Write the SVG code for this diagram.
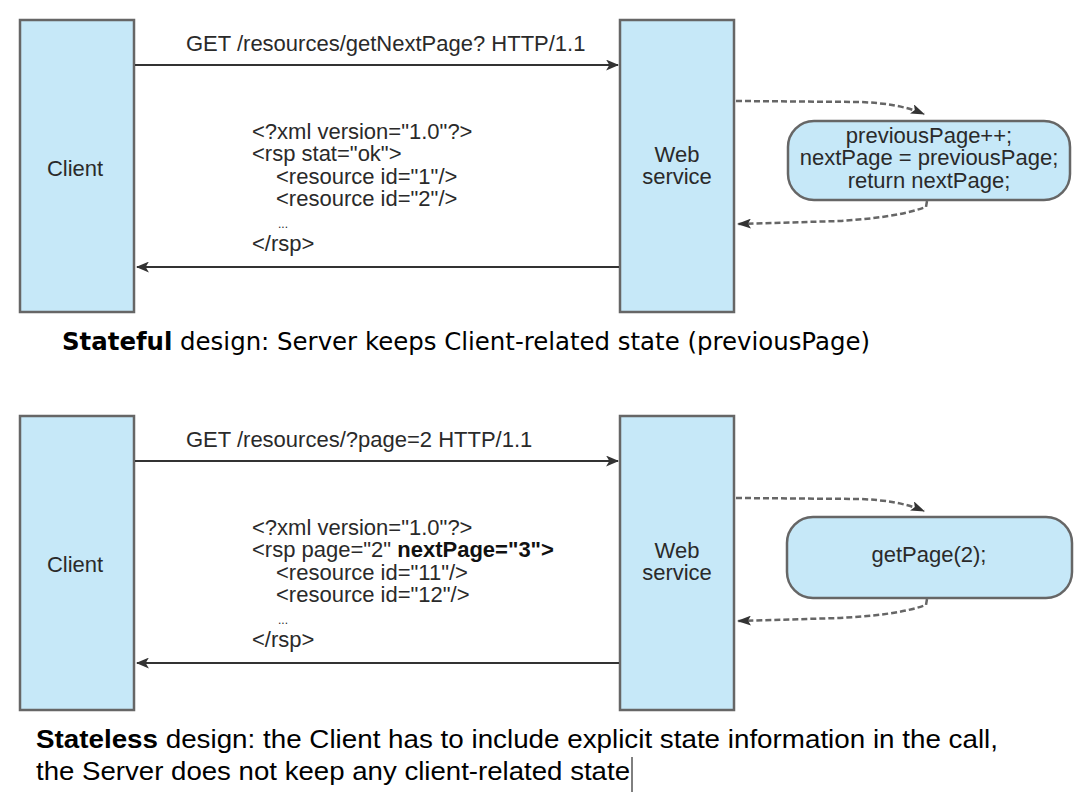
<svg xmlns="http://www.w3.org/2000/svg" width="1092" height="806" viewBox="0 0 1092 806">
<defs>
<style>
.box{fill:#c6e8f8;stroke:#666;stroke-width:2.5}
.t{font-family:"Liberation Sans",Arial,sans-serif;font-size:22px;fill:#2a2a2a}
.c{text-anchor:middle}
.line{stroke:#333;stroke-width:2;fill:none}
.dash{stroke:#666;stroke-width:2.5;fill:none;stroke-dasharray:6 3}
.cap1{font-family:"DejaVu Sans",Verdana,sans-serif;font-size:24px;fill:#000}
.cap2{font-family:"Liberation Sans",Arial,sans-serif;font-size:26px;fill:#000}
</style>
<marker id="ah" viewBox="0 0 12 10" refX="11" refY="5" markerWidth="13" markerHeight="11" markerUnits="userSpaceOnUse" orient="auto">
<path d="M0,0 L12,5 L0,10 L3,5 Z" fill="#333"/>
</marker>
<marker id="ahd" viewBox="0 0 14 10" refX="13" refY="5" markerWidth="14" markerHeight="10" markerUnits="userSpaceOnUse" orient="auto">
<path d="M0,0 L14,5 L0,10 L3,5 Z" fill="#333"/>
</marker>
</defs>
<rect width="1092" height="806" fill="#fff"/>

<g id="client1"><rect class="box" x="20" y="20" width="114" height="292"/><text class="t c" x="75" y="176">Client</text></g>
<g id="ws1"><rect class="box" x="620" y="20" width="114" height="292"/><text class="t c" x="677" y="162">Web</text><text class="t c" x="677" y="184">service</text></g>
<g id="logic1"><rect class="box" x="788" y="121" width="282" height="79" rx="26"/>
<text class="t c" x="929" y="143">previousPage++;</text>
<text class="t c" x="929" y="165">nextPage = previousPage;</text>
<text class="t c" x="929" y="188">return nextPage;</text></g>

<g id="client2"><rect class="box" x="20" y="416" width="114" height="294"/><text class="t c" x="75" y="572">Client</text></g>
<g id="ws2"><rect class="box" x="620" y="416" width="114" height="294"/><text class="t c" x="677" y="558">Web</text><text class="t c" x="677" y="580">service</text></g>
<g id="logic2"><rect class="box" x="787" y="517" width="285" height="81" rx="26"/>
<text class="t c" x="929" y="562">getPage(2);</text></g>

<g id="connectors">
<line class="line" x1="135" y1="65" x2="618" y2="65" marker-end="url(#ah)"/>
<line class="line" x1="619" y1="267" x2="137" y2="267" marker-end="url(#ah)"/>
<path class="dash" d="M736,101 L860,102 C885,103 905,106 924,114" marker-end="url(#ahd)"/>
<path class="dash" d="M927,201 L926,207 C900,216 870,219 840,221 L738,224" marker-end="url(#ahd)"/>

<line class="line" x1="135" y1="461" x2="618" y2="461" marker-end="url(#ah)"/>
<line class="line" x1="619" y1="663" x2="137" y2="663" marker-end="url(#ah)"/>
<path class="dash" d="M736,498 L860,499 C885,500 905,503 924,511" marker-end="url(#ahd)"/>
<path class="dash" d="M927,599 L926,605 C900,614 870,616 840,618 L738,621" marker-end="url(#ahd)"/>
</g>

<g id="labels">
<text class="t" x="186" y="51">GET /resources/getNextPage? HTTP/1.1</text>
<text class="t" x="252" y="139">&lt;?xml version="1.0"?&gt;</text>
<text class="t" x="252" y="161">&lt;rsp stat="ok"&gt;</text>
<text class="t" x="276" y="184">&lt;resource id="1"/&gt;</text>
<text class="t" x="276" y="206">&lt;resource id="2"/&gt;</text>
<text class="t" x="278" y="228" style="font-size:12px">...</text>
<text class="t" x="252" y="251">&lt;/rsp&gt;</text>

<text class="t" x="186" y="447">GET /resources/?page=2 HTTP/1.1</text>
<text class="t" x="252" y="535">&lt;?xml version="1.0"?&gt;</text>
<text class="t" x="252" y="557">&lt;rsp page="2" <tspan font-weight="bold" fill="#111">nextPage="3"&gt;</tspan></text>
<text class="t" x="276" y="580">&lt;resource id="11"/&gt;</text>
<text class="t" x="276" y="602">&lt;resource id="12"/&gt;</text>
<text class="t" x="278" y="624" style="font-size:12px">...</text>
<text class="t" x="252" y="647">&lt;/rsp&gt;</text>
</g>

<g id="captions">
<text class="cap1" x="62" y="350" textLength="808" lengthAdjust="spacingAndGlyphs"><tspan font-weight="bold">Stateful</tspan> design: Server keeps Client-related state (previousPage)</text>
<text class="cap2" x="36" y="748" textLength="962" lengthAdjust="spacingAndGlyphs"><tspan font-weight="bold">Stateless</tspan> design: the Client has to include explicit state information in the call,</text>
<text class="cap2" x="36" y="780" textLength="594" lengthAdjust="spacingAndGlyphs">the Server does not keep any client-related state</text>
<line x1="632" y1="757" x2="632" y2="792" stroke="#000" stroke-width="1"/>
</g>
</svg>
